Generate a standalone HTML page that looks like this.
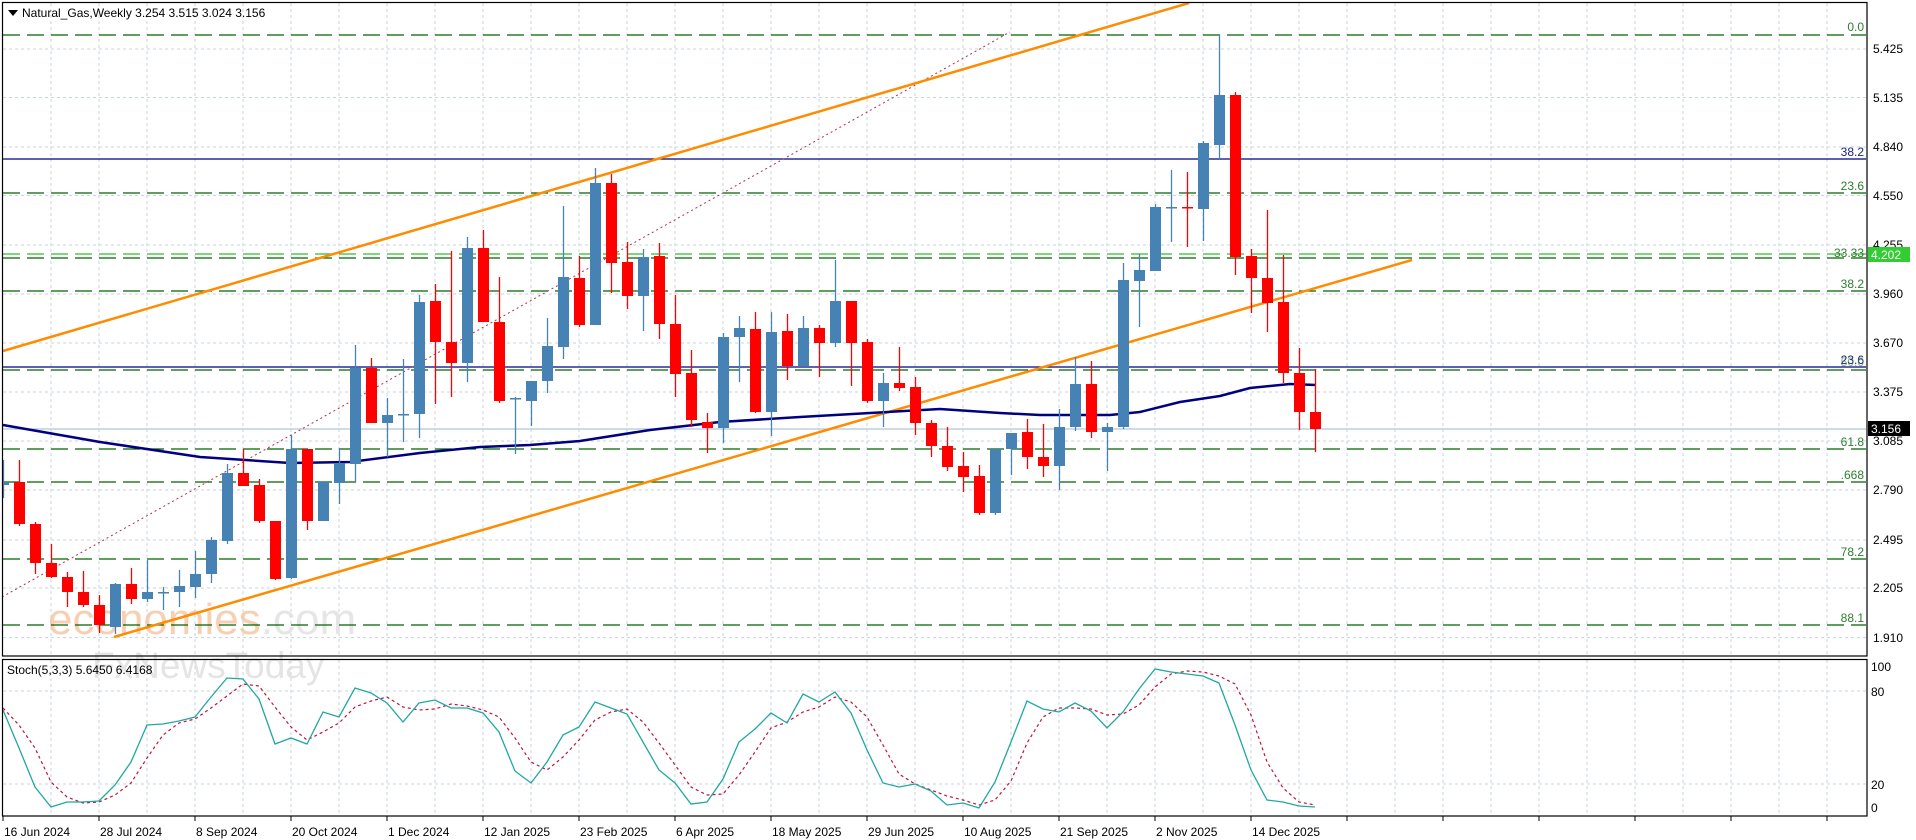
<!DOCTYPE html>
<html><head><meta charset="utf-8"><style>
html,body{margin:0;padding:0;background:#fff;}
svg{display:block;font-family:"Liberation Sans",sans-serif;}
</style></head><body>
<svg id="s" width="1916" height="840" viewBox="0 0 1916 840" xmlns="http://www.w3.org/2000/svg">
<rect width="1916" height="840" fill="#fff"/>
<g id="grid"></g>
<!-- watermark -->
<text x="48" y="634" font-size="44" fill="#f6c7a6" opacity="0.85" font-family="Liberation Sans, sans-serif">economies<tspan fill="#e2e2e2">.com</tspan></text>
<text x="92" y="678" font-size="37" fill="#e0e0e0" opacity="0.85">FxNewsToday</text>
<g id="fib"></g>
<g id="lines"></g>
<g id="candles"></g>
<g id="stoch"></g>
<!-- borders -->
<rect x="2.5" y="2.5" width="1864.5" height="653.5" fill="none" stroke="#000" stroke-width="1.2"/>
<rect x="2.5" y="659.5" width="1864.5" height="156.5" fill="none" stroke="#000" stroke-width="1.2"/>
<!-- title -->
<path d="M8,10 L18,10 L13,16 Z" fill="#000"/>
<text x="22" y="17" font-size="12" fill="#000">Natural_Gas,Weekly  3.254 3.515 3.024 3.156</text>
<text x="7" y="674" font-size="12" fill="#000">Stoch(5,3,3) 5.6450 6.4168</text>
<!-- fib labels -->
<g font-size="12" text-anchor="end">
<text x="1864" y="31" fill="#2e7d32">0.0</text>
<text x="1864" y="156" fill="#1a237e">38.2</text>
<text x="1864" y="190" fill="#2e7d32">23.6</text>
<text x="1864" y="257" fill="#2e7d32">33.33</text>
<text x="1864" y="288" fill="#2e7d32">38.2</text>
<text x="1864" y="364" fill="#1a237e">23.6</text>
<text x="1864" y="366" fill="#2e7d32" opacity="0.6">50.0</text>
<text x="1864" y="446" fill="#2e7d32">61.8</text>
<text x="1864" y="479" fill="#2e7d32">.668</text>
<text x="1864" y="556" fill="#2e7d32">78.2</text>
<text x="1864" y="622" fill="#2e7d32">88.1</text>
</g>
<!-- price axis -->
<g font-size="12" fill="#000">
<text x="1873" y="53">5.425</text>
<text x="1873" y="102">5.135</text>
<text x="1873" y="151">4.840</text>
<text x="1873" y="200">4.550</text>
<text x="1873" y="249">4.255</text>
<text x="1873" y="298">3.960</text>
<text x="1873" y="347">3.670</text>
<text x="1873" y="396">3.375</text>
<text x="1873" y="445">3.085</text>
<text x="1873" y="494">2.790</text>
<text x="1873" y="544">2.495</text>
<text x="1873" y="592">2.205</text>
<text x="1873" y="642">1.910</text>
</g>
<rect x="1868" y="247" width="42" height="15" fill="#32cd32"/>
<text x="1871" y="259" font-size="12" fill="#fff">4.202</text>
<rect x="1868" y="421" width="42" height="15" fill="#000"/>
<text x="1871" y="433" font-size="12" fill="#fff">3.156</text>
<g font-size="12" fill="#000">
<text x="1871" y="671">100</text>
<text x="1871" y="696">80</text>
<text x="1871" y="789">20</text>
<text x="1871" y="812">0</text>
</g>
<!-- date axis -->
<g font-size="12" fill="#000">
<text x="4" y="836">16 Jun 2024</text>
<text x="100" y="836">28 Jul 2024</text>
<text x="196" y="836">8 Sep 2024</text>
<text x="292" y="836">20 Oct 2024</text>
<text x="388" y="836">1 Dec 2024</text>
<text x="484" y="836">12 Jan 2025</text>
<text x="580" y="836">23 Feb 2025</text>
<text x="676" y="836">6 Apr 2025</text>
<text x="772" y="836">18 May 2025</text>
<text x="868" y="836">29 Jun 2025</text>
<text x="964" y="836">10 Aug 2025</text>
<text x="1060" y="836">21 Sep 2025</text>
<text x="1156" y="836">2 Nov 2025</text>
<text x="1252" y="836">14 Dec 2025</text>
</g>
<script>
(function(){
var NS="http://www.w3.org/2000/svg";
function el(p,t,a){var e=document.createElementNS(NS,t);for(var k in a)e.setAttribute(k,a[k]);document.getElementById(p).appendChild(e);return e;}
var gy=[49,97.5,147,195.5,245,294,343,392,441,490,540,588,637.6];
gy.forEach(function(y){el("grid","line",{x1:3,x2:1866,y1:y,y2:y,stroke:"#c5d5dc","stroke-dasharray":"3,3","stroke-width":1});});
[691,784].forEach(function(y){el("grid","line",{x1:3,x2:1866,y1:y,y2:y,stroke:"#c5d5dc","stroke-dasharray":"3,3","stroke-width":1});});
for(var x=51;x<1866;x+=48){
 el("grid","line",{x1:x,x2:x,y1:3,y2:655,stroke:"#c5d5dc","stroke-dasharray":"3,3","stroke-width":1});
 el("grid","line",{x1:x,x2:x,y1:660,y2:815,stroke:"#c5d5dc","stroke-dasharray":"3,3","stroke-width":1});
}
for(var x=3;x<1866;x+=96){el("grid","line",{x1:x,x2:x,y1:816,y2:821,stroke:"#000"});}
[35,193,258,291,370,449,482,559,625].forEach(function(y){el("fib","line",{x1:3,x2:1866,y1:y,y2:y,stroke:"#006400","stroke-dasharray":"17,7","stroke-width":1.2});});
el("fib","line",{x1:3,x2:1866,y1:254,y2:254,stroke:"#33bb33","stroke-dasharray":"17,7","stroke-width":1.2});
el("fib","line",{x1:3,x2:1866,y1:159,y2:159,stroke:"#000080","stroke-width":1.2});
el("fib","line",{x1:3,x2:1866,y1:367,y2:367,stroke:"#000080","stroke-width":1.2});
el("fib","line",{x1:3,x2:1866,y1:429,y2:429,stroke:"#b0c8d8","stroke-width":1.2});
el("lines","line",{x1:2,y1:597,x2:1010,y2:32,stroke:"#b03050","stroke-dasharray":"2,3","stroke-width":1});
el("lines","line",{x1:3,y1:351,x2:1189,y2:3,stroke:"#ff8c00","stroke-width":2.5});
el("lines","line",{x1:114,y1:637,x2:1412,y2:260,stroke:"#ff8c00","stroke-width":2.5});
var ma=[[3,425],[100,442],[200,457],[290,463],[350,462],[420,453],[480,447],[530,445],[580,441],[650,430],[720,422],[800,417],[870,413],[940,409],[1000,413],[1040,415],[1110,415],[1140,412],[1180,402],[1220,396],[1250,388],[1290,384],[1316,385]];
el("lines","polyline",{points:ma.map(function(p){return p.join(",")}).join(" "),fill:"none",stroke:"#000080","stroke-width":2.5});
var C=[[485,482,460,498,'b'],[482,524,460,526,'r'],[524,563,522,574,'r'],[563,577,544,578,'r'],[577,592,572,607,'r'],[592,605,571,607,'r'],[605,625,595,633,'r'],[627,584,583,634,'b'],[584,599,568,604,'r'],[599,592,560,602,'b'],[592,592,587,610,'b'],[592,586,570,607,'b'],[587,574,551,598,'b'],[574,540,537,583,'b'],[541,473,464,544,'b'],[473,486,449,486,'r'],[485,521,479,523,'r'],[521,579,521,580,'r'],[578,449,435,579,'b'],[449,521,449,530,'r'],[521,482,482,521,'b'],[483,463,448,504,'b'],[464,368,345,482,'b'],[368,423,358,423,'r'],[423,415,398,457,'b'],[415,414,359,442,'b'],[414,302,295,438,'b'],[301,342,284,404,'r'],[342,363,251,397,'r'],[363,248,237,382,'b'],[248,322,230,322,'r'],[322,401,277,403,'r'],[399,398,397,454,'b'],[401,381,381,426,'b'],[381,346,318,393,'b'],[347,277,206,359,'b'],[278,325,256,327,'r'],[325,183,168,325,'b'],[183,263,174,293,'r'],[262,296,242,309,'r'],[296,257,249,331,'b'],[256,324,243,339,'r'],[324,374,295,397,'r'],[373,420,350,427,'r'],[422,428,413,453,'r'],[428,337,333,443,'b'],[337,328,316,382,'b'],[329,412,312,413,'r'],[412,332,312,436,'b'],[331,366,314,380,'r'],[366,328,316,366,'b'],[328,343,325,377,'r'],[343,301,260,347,'b'],[301,343,301,386,'r'],[342,401,339,403,'r'],[401,383,373,427,'b'],[383,388,347,391,'r'],[387,423,377,435,'r'],[423,446,420,457,'r'],[446,467,427,471,'r'],[466,477,452,492,'r'],[476,513,465,515,'r'],[513,449,449,515,'b'],[449,433,433,475,'b'],[432,457,419,469,'r'],[457,466,424,477,'r'],[466,427,409,490,'b'],[427,384,357,431,'b'],[384,432,361,438,'r'],[432,427,423,471,'b'],[427,280,263,429,'b'],[281,270,254,327,'b'],[271,207,204,271,'b'],[208,207,170,242,'b'],[207,208,172,247,'r'],[209,143,141,241,'b'],[145,95,35,159,'b'],[95,257,92,275,'r'],[256,278,249,313,'r'],[278,303,210,332,'r'],[302,373,255,383,'r'],[373,412,348,430,'r'],[412,429,369,452,'r']];
C.forEach(function(c,i){
 var x=3+16*i,col=c[4]=='b'?"#4682b4":"#ff0000";
 el("candles","line",{x1:x+0.5,x2:x+0.5,y1:c[2],y2:c[3],stroke:col,"stroke-width":1.3});
 var t=Math.min(c[0],c[1]),h=Math.max(Math.abs(c[1]-c[0]),1.5);
 var x0=Math.max(x-5,3);
 el("candles","rect",{x:x0,y:t,width:x+6-x0,height:h,fill:col});
});
var K=[710,748,787,807,802,802,801,785,762,725,724,721,717,697,678,679,699,744,738,744,712,717,688,693,703,722,703,700,708,708,713,732,771,783,762,735,727,702,708,714,742,770,783,804,802,779,742,729,713,723,694,702,692,713,750,783,787,784,791,805,803,808,782,742,701,709,712,703,711,728,712,689,669,672,674,676,683,725,770,800,802,806,807];
var D=[708,725,748,782,797,803,802,795,783,758,735,723,719,708,696,684,686,707,727,740,732,723,707,701,697,707,710,709,704,706,710,717,738,762,770,757,740,720,712,709,722,743,765,787,795,794,775,752,728,722,712,707,697,702,717,745,774,784,790,796,800,805,800,781,743,717,708,708,709,715,714,705,687,674,671,672,676,684,715,762,788,802,805];
el("stoch","polyline",{points:D.map(function(y,i){return (3+16*i)+","+y}).join(" "),fill:"none",stroke:"#c0143c","stroke-dasharray":"3,3","stroke-width":1.2});
el("stoch","polyline",{points:K.map(function(y,i){return (3+16*i)+","+y}).join(" "),fill:"none",stroke:"#20a8a0","stroke-width":1.3});
})();
</script>
</svg>
</body></html>
